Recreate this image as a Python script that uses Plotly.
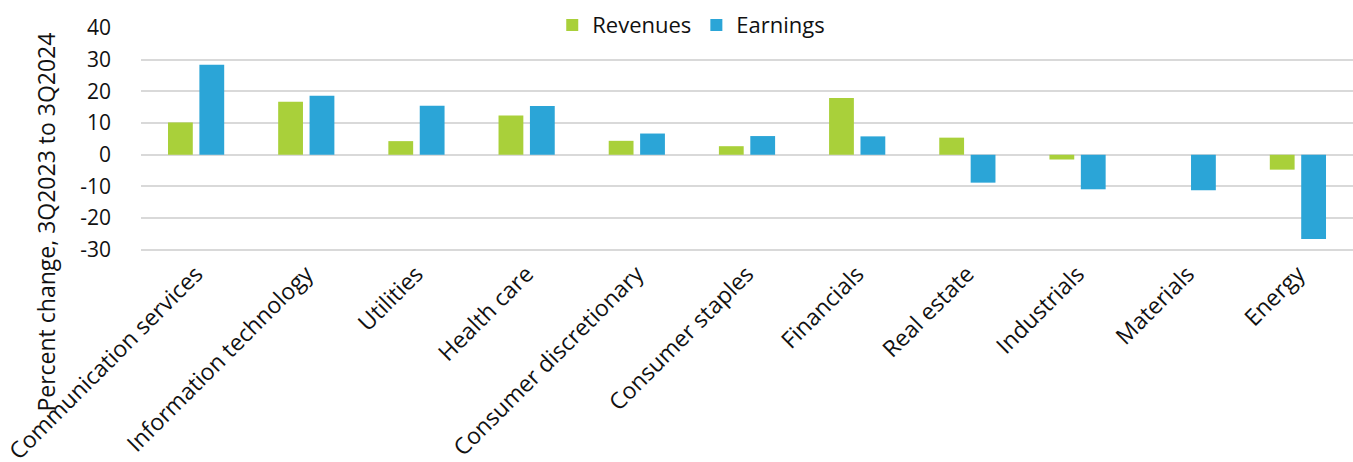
import plotly.graph_objects as go

categories = ["Communication services", "Information technology", "Utilities", "Health care",
              "Consumer discretionary", "Consumer staples", "Financials", "Real estate",
              "Industrials", "Materials", "Energy"]
revenues = [10.2, 16.7, 4.3, 12.4, 4.4, 2.7, 17.9, 5.4, -1.5, 0.0, -4.7]
earnings = [28.4, 18.6, 15.5, 15.4, 6.7, 5.9, 5.8, -8.8, -10.9, -11.2, -26.6]
y_ticks = [-30, -20, -10, 0, 10, 20, 30, 40]
y_tick_labels = ["-30", "-20", "-10", "0", "10", "20", "30", "40"]
y_title = "Percent change, 3Q2023 to 3Q2024"

FONT = "Open Sans"
GREEN = "#A9D03A"
BLUE = "#2BA5D7"

fig = go.Figure()
fig.add_trace(go.Bar(x=categories, y=revenues, name="Revenues",
                     marker=dict(color=GREEN, line=dict(width=0))))
fig.add_trace(go.Bar(x=categories, y=earnings, name="Earnings",
                     marker=dict(color=BLUE, line=dict(width=0))))

fig.add_annotation(text=y_title, xref="paper", yref="paper", x=-0.0787, y=0.138,
                   xanchor="center", yanchor="middle", textangle=-90, showarrow=False,
                   font=dict(size=23, color="#111111", family=FONT))

fig.update_layout(
    width=1353, height=462,
    margin=dict(l=141, r=0, t=28, b=209, autoexpand=False),
    paper_bgcolor="white", plot_bgcolor="white",
    barmode="group", bargap=0.43, bargroupgap=0.21,
    font=dict(family=FONT, size=20, color="#111111"),
    showlegend=True,
    legend=dict(orientation="h", x=0.454, xanchor="center", y=1.013, yanchor="middle",
                bgcolor="rgba(0,0,0,0)", font=dict(size=22), itemwidth=30,
                traceorder="normal"),
    xaxis=dict(tickangle=-45, showgrid=False, showline=False, ticks="", automargin=False,
               tickfont=dict(size=23), ticklabelstandoff=2),
    yaxis=dict(range=[-31, 40], tickvals=y_ticks, ticktext=y_tick_labels, showgrid=True,
               gridcolor="#D9D9D9", automargin=False,
               gridwidth=2, zeroline=True, zerolinecolor="#D9D9D9", zerolinewidth=2,
               showline=False, ticks="", tickfont=dict(size=21), ticklabelstandoff=29),
)

fig.write_html("out.html", config={"displayModeBar": False},
               post_script="document.body.style.margin='0';document.body.style.overflow='hidden';")
